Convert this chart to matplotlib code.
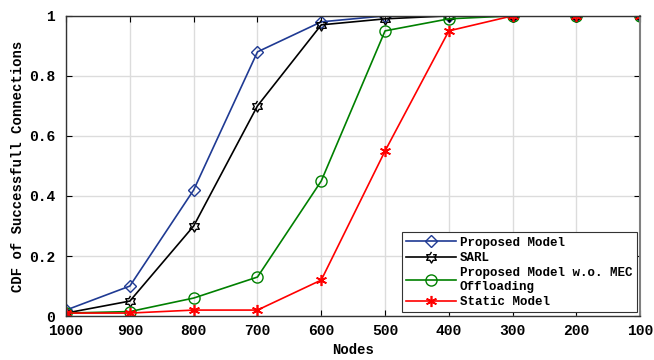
import numpy as np
import matplotlib
matplotlib.use("Agg")
import matplotlib.pyplot as plt

nodes = [1000, 900, 800, 700, 600, 500, 400, 300, 200, 100]
proposed = [0.02, 0.10, 0.42, 0.88, 0.98, 1.00, 1.00, 1.00, 1.00, 1.00]
sarl = [0.01, 0.05, 0.30, 0.70, 0.97, 0.99, 1.00, 1.00, 1.00, 1.00]
no_mec = [0.01, 0.015, 0.06, 0.13, 0.45, 0.95, 0.99, 1.00, 1.00, 1.00]
static = [0.01, 0.01, 0.02, 0.02, 0.12, 0.55, 0.95, 1.00, 1.00, 1.00]

plt.rcParams['font.family'] = ['Liberation Mono', 'DejaVu Sans Mono']
plt.rcParams['font.weight'] = 'bold'

# hexagram marker (star of David)
ang = np.linspace(0, 2 * np.pi, 13)[:-1] + np.pi / 2
rad = np.where(np.arange(12) % 2 == 0, 1.0, 0.58)
hexagram = list(zip(rad * np.cos(ang), rad * np.sin(ang)))

fig = plt.figure(figsize=(6.54, 3.6), dpi=100)
ax = fig.add_axes([0.101, 0.122, 0.878, 0.834])

ax.plot(nodes, proposed, color="#1f3a93", marker="D", markersize=6, mfc="none", lw=1.2, label="Proposed Model")
ax.plot(nodes, sarl, color="black", marker=hexagram, markersize=8, mfc="none", lw=1.2, label="SARL")
ax.plot(nodes, no_mec, color="#008000", marker="o", markersize=8, mfc="none", lw=1.2, label="Proposed Model w.o. MEC\nOffloading")
ax.plot(nodes, static, color="red", marker=(6, 2, 0), markersize=8, lw=1.2, mew=1.2, label="Static Model")

ax.set_xlim(1000, 100)
ax.set_ylim(0, 1)
ax.set_xticks(nodes)
ax.set_yticks([0, 0.2, 0.4, 0.6, 0.8, 1])
ax.set_yticklabels(["0", "0.2", "0.4", "0.6", "0.8", "1"])
ax.grid(True, color="#dcdcdc", linewidth=1)
ax.tick_params(direction="in", labelsize=10.5, length=4, top=True, right=True)
ax.tick_params(axis="x", pad=6)
ax.tick_params(axis="y", pad=8)
for s in ax.spines.values():
    s.set_linewidth(1)
    s.set_color("#333333")
ax.spines["right"].set_color("gray")
ax.spines["right"].set_linewidth(1.5)

ax.set_xlabel("Nodes", fontsize=10, fontweight="bold", labelpad=3)
ax.set_ylabel("CDF of Successfull Connections", fontsize=10, fontweight="bold", labelpad=3)

leg = ax.legend(loc="lower right", fontsize=9, fancybox=False, framealpha=1,
                edgecolor="#333333", handlelength=4.0, borderaxespad=0.3,
                labelspacing=0.25, handletextpad=0.3, borderpad=0.35)
leg.get_frame().set_linewidth(0.8)

fig.savefig("out.png", dpi=100)
